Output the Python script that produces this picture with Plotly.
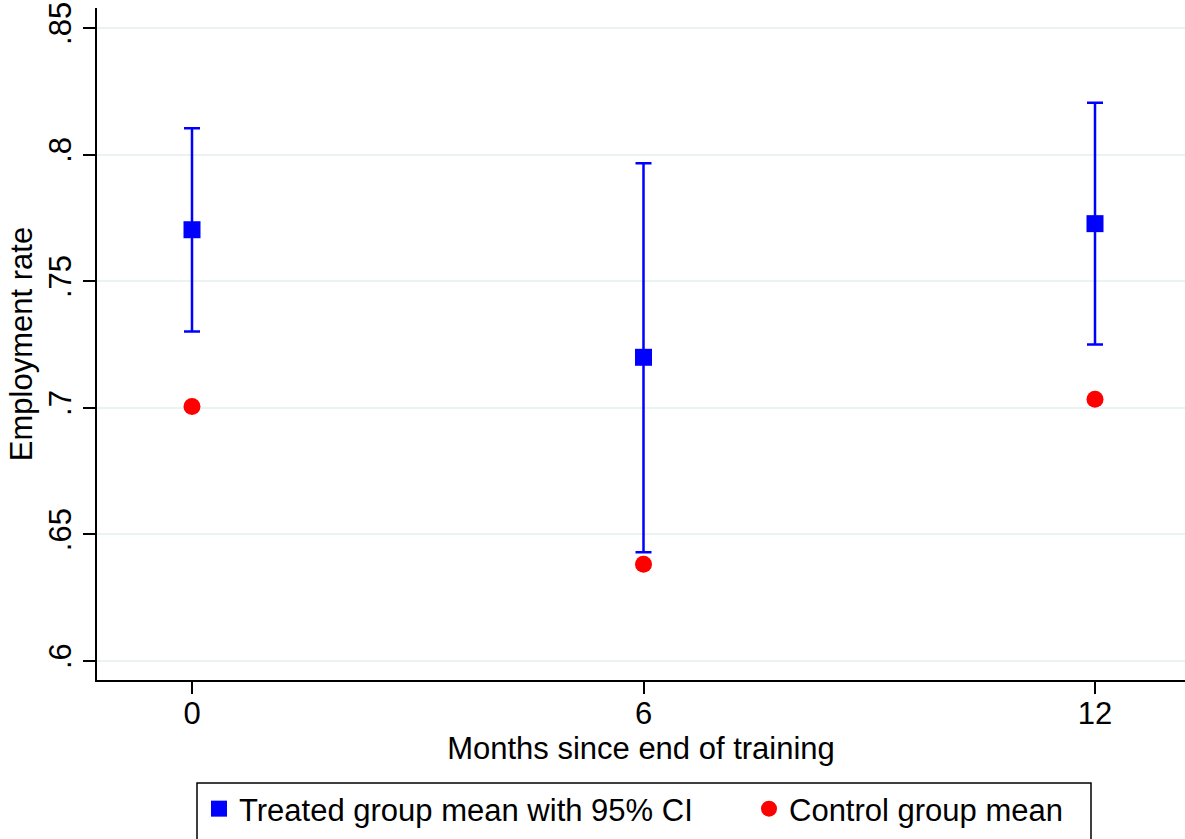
import plotly.graph_objects as go

months = [0, 6, 12]
treated_mean = [0.7703, 0.7199, 0.7727]
treated_upper = [0.8104, 0.7966, 0.8205]
treated_lower = [0.7301, 0.6429, 0.7250]
control_mean = [0.7005, 0.6381, 0.7033]

y_ticks = [0.6, 0.65, 0.7, 0.75, 0.8, 0.85]
y_tick_labels = [".6", ".65", ".7", ".75", ".8", ".85"]
x_ticks = [0, 6, 12]
x_tick_labels = ["0", "6", "12"]

BLUE = "#0000ff"
RED = "#ff0000"
FONT = "Liberation Sans, Arial, Helvetica, sans-serif"
FS = 31

W, H = 1185, 839
ML, MT, MB = 97, 8, 159
PH = H - MT - MB
PW = W - ML


def px_x(p):
    return (p - ML) / PW


def px_y(p):
    return (H - MB - p) / PH


err_plus = [u - m for u, m in zip(treated_upper, treated_mean)]
err_minus = [m - l for m, l in zip(treated_mean, treated_lower)]

fig = go.Figure()
fig.add_trace(go.Scatter(
    x=months, y=treated_mean, mode="markers",
    name="Treated group mean with 95% CI",
    marker=dict(symbol="square", size=17, color=BLUE),
    error_y=dict(type="data", array=err_plus, arrayminus=err_minus,
                 color=BLUE, thickness=2.5, width=8, visible=True),
    legend="legend",
))
fig.add_trace(go.Scatter(
    x=months, y=control_mean, mode="markers",
    name="Control group mean",
    marker=dict(symbol="circle", size=17, color=RED),
    legend="legend2",
))

fig.add_shape(type="rect", xref="paper", yref="paper",
              x0=px_x(197), x1=px_x(1091), y0=px_y(783), y1=px_y(860),
              line=dict(color="black", width=1.5), fillcolor="rgba(0,0,0,0)",
              layer="above")

legend_common = dict(
    orientation="h", xanchor="left", y=px_y(782), yanchor="top",
    borderwidth=0, bgcolor="rgba(0,0,0,0)",
    font=dict(family=FONT, size=FS, color="black"),
)

fig.update_layout(
    width=W, height=H,
    paper_bgcolor="white", plot_bgcolor="white",
    margin=dict(l=ML, r=0, t=MT, b=MB, autoexpand=False),
    font=dict(family=FONT, size=FS, color="black"),
    showlegend=True,
    legend=dict(x=px_x(199), **legend_common),
    legend2=dict(x=px_x(749), **legend_common),
    xaxis=dict(
        range=[-1.2625, 13.196],
        tickmode="array", tickvals=x_ticks, ticktext=x_tick_labels,
        ticks="outside", ticklen=12, tickwidth=1.5, tickcolor="black",
        ticklabelstandoff=-7,
        showline=True, linecolor="black", linewidth=1.5,
        showgrid=False, zeroline=False,
        title=dict(text="Months since end of training", standoff=4,
                   font=dict(size=FS)),
        tickfont=dict(size=FS),
    ),
    yaxis=dict(
        range=[0.5924, 0.8579],
        tickmode="array", tickvals=y_ticks, ticktext=y_tick_labels,
        tickangle=-90,
        ticks="outside", ticklen=12, tickwidth=1.5, tickcolor="black",
        showline=True, linecolor="black", linewidth=1.5,
        showgrid=True, gridcolor="#eaf2f3", gridwidth=2,
        zeroline=False,
        title=dict(text="Employment rate", standoff=1, font=dict(size=FS)),
        tickfont=dict(size=FS),
    ),
)

fig.write_html(
    "out.html",
    config={"displayModeBar": False},
    post_script="document.body.style.margin='0px';document.body.style.overflow='hidden';",
)
